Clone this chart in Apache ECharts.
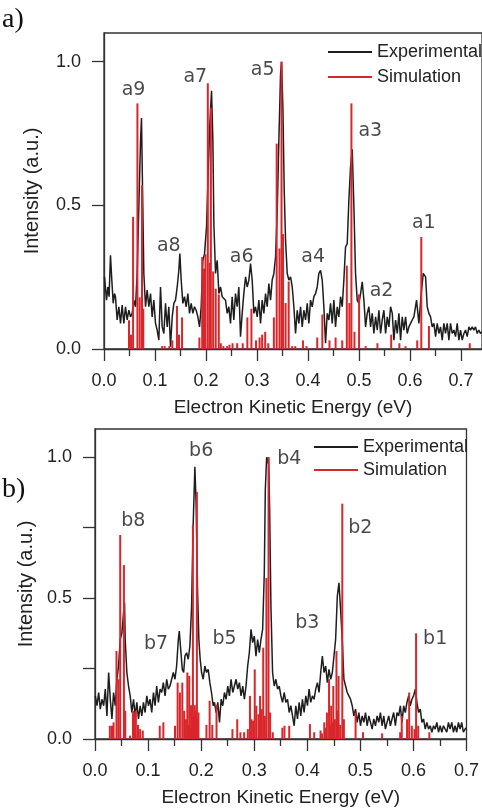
<!DOCTYPE html>
<html><head><meta charset="utf-8">
<script src="https://cdn.jsdelivr.net/npm/echarts@6/dist/echarts.min.js"></script>
<style>html,body{margin:0;padding:0;background:#fff}#c{width:482px;height:808px}</style>
</head><body><div id="c"></div>
<script>
// ---------- Panel a) ----------
const topExpE = [0.001,0.005,0.0075,0.010,0.0127,0.0153,0.018,0.0206,0.0225,0.0258,0.0291,0.0324,0.0356,0.0389,0.0422,0.0454,0.0487,0.052,0.0552,0.0585,0.0618,0.065,0.0683,0.0716,0.0735,0.0761,0.0781,0.0814,0.0846,0.0879,0.0912,0.0944,0.0977,0.101,0.1042,0.1075,0.1108,0.1141,0.1173,0.1206,0.1239,0.1271,0.1304,0.1337,0.1369,0.1402,0.1435,0.1467,0.1487,0.1513,0.1546,0.1578,0.1611,0.1644,0.1676,0.1709,0.1742,0.1774,0.1807,0.184,0.1873,0.1905,0.1938,0.1971,0.201,0.2042,0.2075,0.2108,0.2134,0.2154,0.2186,0.2219,0.2252,0.2284,0.2317,0.235,0.2382,0.2415,0.2447,0.248,0.2513,0.2545,0.2578,0.2611,0.2643,0.2676,0.2709,0.2741,0.2775,0.2807,0.284,0.2873,0.2905,0.2938,0.297,0.3003,0.3036,0.3069,0.3101,0.3134,0.3167,0.3199,0.3232,0.3265,0.3297,0.333,0.3363,0.3395,0.3428,0.3461,0.348,0.3507,0.3533,0.3559,0.3592,0.3624,0.3657,0.369,0.3722,0.3755,0.3788,0.382,0.3853,0.3886,0.3918,0.3951,0.3984,0.4016,0.4049,0.4082,0.4114,0.4147,0.418,0.4212,0.4245,0.4278,0.431,0.4343,0.4376,0.4408,0.4441,0.4474,0.4506,0.4539,0.4572,0.4604,0.4637,0.467,0.4702,0.4735,0.4768,0.48,0.4833,0.4866,0.4899,0.4931,0.4964,0.4997,0.503,0.5062,0.5095,0.5128,0.516,0.5193,0.5226,0.5258,0.5291,0.5324,0.5357,0.5389,0.5422,0.5454,0.5487,0.552,0.5553,0.5585,0.5618,0.5651,0.5683,0.5716,0.5749,0.5781,0.5814,0.5846,0.5879,0.5912,0.5944,0.5977,0.601,0.6042,0.6075,0.6127,0.6173,0.6219,0.6258,0.6304,0.6336,0.6369,0.6402,0.6434,0.6467,0.65,0.6532,0.6565,0.6597,0.663,0.6663,0.6695,0.6728,0.6761,0.6793,0.6826,0.6859,0.6891,0.6924,0.6957,0.6989,0.7022,0.7055,0.7087,0.712,0.7153,0.7185,0.7218,0.725,0.7283,0.7316,0.7348,0.738,0.741];
const topExpI = [0.251,0.170,0.216,0.182,0.326,0.240,0.159,0.193,0.182,0.101,0.147,0.089,0.153,0.089,0.147,0.101,0.135,0.112,0.124,0.170,0.147,0.263,0.494,0.726,0.804,0.494,0.263,0.147,0.205,0.147,0.193,0.112,0.170,0.089,0.066,0.031,0.216,0.077,0.054,0.159,0.077,0.147,0.008,0.112,0.159,0.170,0.216,0.274,0.332,0.240,0.159,0.182,0.147,0.193,0.124,0.159,0.124,0.147,0.135,0.112,0.077,0.147,0.309,0.332,0.425,0.610,0.784,0.899,0.726,0.436,0.263,0.309,0.193,0.216,0.182,0.182,0.170,0.124,0.147,0.089,0.182,0.101,0.193,0.147,0.216,0.043,0.124,0.193,0.251,0.216,0.240,0.297,0.240,0.124,0.147,0.112,0.170,0.089,0.170,0.124,0.193,0.147,0.228,0.170,0.240,0.263,0.321,0.471,0.726,0.957,1.0,0.841,0.552,0.378,0.263,0.240,0.251,0.216,0.147,0.054,0.135,0.089,0.147,0.077,0.135,0.101,0.159,0.089,0.170,0.147,0.182,0.193,0.216,0.263,0.274,0.240,0.147,0.020,0.124,0.101,0.159,0.089,0.170,0.077,0.147,0.112,0.182,0.147,0.240,0.355,0.367,0.517,0.633,0.695,0.494,0.263,0.170,0.159,0.193,0.234,0.170,0.077,0.124,0.147,0.077,0.124,0.054,0.112,0.066,0.135,0.054,0.101,0.135,0.054,0.112,0.077,0.147,0.124,0.031,0.101,0.054,0.124,0.031,0.112,0.066,0.112,0.054,0.077,0.089,0.101,0.112,0.170,0.089,0.193,0.263,0.251,0.147,0.124,0.112,0.077,0.089,0.043,0.089,0.054,0.077,0.031,0.089,0.054,0.089,0.031,0.089,0.054,0.066,0.043,0.089,0.031,0.066,0.031,0.054,0.066,0.043,0.077,0.066,0.077,0.066,0.077,0.054,0.066,0.054,0.060];
const topSimE = [0.049,0.053,0.057,0.0655,0.070,0.0745,0.077,0.114,0.119,0.128,0.134,0.143,0.147,0.153,0.187,0.1925,0.196,0.199,0.2035,0.2075,0.2095,0.214,0.219,0.225,0.229,0.234,0.2415,0.246,0.252,0.261,0.272,0.281,0.289,0.298,0.305,0.310,0.316,0.322,0.333,0.3385,0.344,0.348,0.351,0.356,0.362,0.369,0.375,0.390,0.397,0.418,0.428,0.442,0.454,0.467,0.476,0.481,0.485,0.491,0.500,0.513,0.536,0.563,0.579,0.591,0.614,0.622,0.637,0.717];
const topSimI = [0.10,0.05,0.46,0.855,0.18,0.57,0.14,0.01,0.01,0.01,0.03,0.15,0.05,0.11,0.04,0.32,0.28,0.33,0.925,0.30,0.84,0.27,0.21,0.19,0.02,0.01,0.01,0.015,0.02,0.02,0.02,0.11,0.14,0.03,0.04,0.05,0.06,0.02,0.11,0.715,0.35,1.0,0.40,0.16,0.235,0.01,0.01,0.03,0.01,0.04,0.12,0.03,0.04,0.03,0.29,0.16,0.855,0.06,0.19,0.01,0.02,0.05,0.02,0.01,0.03,0.39,0.08,0.02];
const topPeakNames = ['a9','a8','a7','a6','a5','a4','a3','a2','a1'];
const topPeakE = [0.058,0.127,0.179,0.270,0.311,0.410,0.522,0.544,0.627];
const topPeakI = [0.90,0.36,0.945,0.32,0.97,0.32,0.76,0.20,0.44];

// ---------- Panel b) ----------
const botExpE = [0.0006,0.0038,0.0069,0.0100,0.0131,0.0163,0.0194,0.0225,0.0257,0.0288,0.0319,0.0350,0.0381,0.0413,0.0444,0.0475,0.0507,0.0538,0.0557,0.0569,0.0600,0.0632,0.0663,0.0694,0.0726,0.0757,0.0788,0.0819,0.0851,0.0882,0.0913,0.0944,0.0976,0.1007,0.1038,0.1069,0.1101,0.1132,0.1163,0.1195,0.1226,0.1257,0.1288,0.1320,0.1351,0.1382,0.1413,0.1445,0.1476,0.1507,0.1538,0.1570,0.1588,0.1620,0.1645,0.1670,0.1695,0.1726,0.1757,0.1788,0.1820,0.1851,0.1882,0.1907,0.1932,0.1957,0.1982,0.2008,0.2039,0.2070,0.2101,0.2133,0.2164,0.2195,0.2227,0.2251,0.2283,0.2314,0.2346,0.2377,0.2408,0.2439,0.2471,0.2502,0.2533,0.2564,0.2596,0.2627,0.2658,0.2690,0.2721,0.2752,0.2784,0.2815,0.2846,0.2877,0.2908,0.2940,0.2971,0.3002,0.3033,0.3065,0.3096,0.3127,0.3159,0.3190,0.3209,0.3234,0.3252,0.3271,0.3290,0.3315,0.3346,0.3377,0.3409,0.3440,0.3471,0.3503,0.3534,0.3565,0.3597,0.3628,0.3659,0.3690,0.3722,0.3753,0.3784,0.3815,0.3847,0.3878,0.3909,0.3940,0.3972,0.4003,0.4034,0.4065,0.4097,0.4128,0.4159,0.4191,0.4222,0.4253,0.4284,0.4316,0.4347,0.4378,0.4409,0.4441,0.4472,0.4503,0.4534,0.4566,0.4597,0.4628,0.4659,0.4690,0.4722,0.4753,0.4784,0.4815,0.4847,0.4878,0.4909,0.4940,0.4972,0.5003,0.5034,0.5066,0.5097,0.5128,0.5160,0.5191,0.5222,0.5253,0.5285,0.5316,0.5347,0.5378,0.5410,0.5441,0.5472,0.5503,0.5535,0.5566,0.5597,0.5628,0.5660,0.5691,0.5722,0.5753,0.5785,0.5816,0.5847,0.5878,0.5910,0.5941,0.5972,0.6003,0.6035,0.6066,0.6098,0.6129,0.6160,0.6191,0.6223,0.6254,0.6285,0.6316,0.6348,0.6379,0.6410,0.6441,0.6473,0.6504,0.6535,0.6566,0.6598,0.6629,0.6660,0.6691,0.6723,0.6754,0.6785,0.6816,0.6848,0.6879,0.6910,0.6941,0.6973,0.700];
const botExpI = [0.153,0.118,0.165,0.106,0.141,0.118,0.177,0.082,0.236,0.141,0.071,0.165,0.118,0.212,0.259,0.353,0.377,0.448,0.483,0.353,0.236,0.188,0.153,0.094,0.141,0.082,0.130,0.071,0.118,0.082,0.130,0.094,0.153,0.118,0.141,0.094,0.165,0.118,0.188,0.130,0.177,0.165,0.200,0.153,0.212,0.177,0.188,0.212,0.236,0.212,0.259,0.353,0.383,0.306,0.247,0.236,0.294,0.306,0.283,0.330,0.471,0.766,0.966,0.824,0.530,0.353,0.283,0.236,0.212,0.259,0.236,0.247,0.200,0.165,0.118,0.130,0.094,0.130,0.059,0.141,0.118,0.165,0.141,0.188,0.153,0.212,0.165,0.188,0.212,0.177,0.200,0.153,0.188,0.141,0.188,0.259,0.306,0.389,0.342,0.365,0.294,0.353,0.306,0.353,0.389,0.589,0.883,1.0,0.978,1.0,0.824,0.471,0.236,0.188,0.212,0.177,0.188,0.153,0.130,0.165,0.130,0.141,0.094,0.118,0.082,0.047,0.118,0.071,0.130,0.082,0.141,0.094,0.153,0.118,0.177,0.130,0.153,0.141,0.177,0.200,0.165,0.236,0.294,0.236,0.259,0.200,0.247,0.212,0.236,0.294,0.353,0.506,0.554,0.459,0.353,0.212,0.188,0.165,0.153,0.141,0.118,0.082,0.106,0.059,0.094,0.047,0.082,0.059,0.094,0.047,0.082,0.059,0.035,0.071,0.047,0.082,0.059,0.094,0.047,0.082,0.035,0.059,0.082,0.047,0.071,0.094,0.047,0.094,0.082,0.118,0.059,0.118,0.094,0.130,0.153,0.118,0.141,0.153,0.177,0.130,0.094,0.106,0.059,0.071,0.035,0.059,0.035,0.047,0.024,0.047,0.035,0.059,0.024,0.047,0.024,0.047,0.035,0.024,0.059,0.035,0.059,0.024,0.047,0.024,0.059,0.035,0.059,0.024,0.035,0.040];
const botSimE = [0.028,0.032,0.035,0.0405,0.044,0.0475,0.0545,0.057,0.066,0.0715,0.0735,0.077,0.081,0.085,0.090,0.122,0.1288,0.1507,0.1557,0.160,0.1645,0.168,0.1713,0.174,0.176,0.1776,0.179,0.181,0.183,0.1845,0.186,0.188,0.190,0.192,0.193,0.195,0.210,0.216,0.221,0.229,0.259,0.268,0.274,0.281,0.288,0.292,0.295,0.298,0.301,0.304,0.308,0.311,0.314,0.317,0.320,0.323,0.327,0.330,0.335,0.353,0.357,0.366,0.405,0.413,0.425,0.428,0.432,0.434,0.437,0.441,0.443,0.445,0.447,0.449,0.452,0.455,0.457,0.459,0.462,0.466,0.469,0.491,0.505,0.541,0.575,0.578,0.588,0.592,0.597,0.602,0.605,0.609,0.630];
const botSimI = [0.047,0.047,0.059,0.312,0.212,0.724,0.617,0.10,0.012,0.10,0.094,0.10,0.05,0.035,0.03,0.047,0.059,0.047,0.20,0.165,0.20,0.10,0.07,0.236,0.05,0.224,0.04,0.12,0.06,0.76,0.08,0.12,0.10,0.877,0.07,0.094,0.05,0.136,0.05,0.12,0.035,0.07,0.024,0.024,0.035,0.153,0.07,0.065,0.247,0.118,0.088,0.153,0.106,0.324,0.082,0.571,1.0,0.094,0.024,0.04,0.047,0.047,0.053,0.024,0.03,0.02,0.059,0.04,0.094,0.212,0.05,0.118,0.06,0.188,0.07,0.312,0.10,0.224,0.05,0.835,0.07,0.094,0.024,0.02,0.024,0.082,0.07,0.165,0.047,0.035,0.375,0.047,0.024];
const botPeakNames = ['b8','b7','b6','b5','b4','b3','b2','b1'];
const botPeakE = [0.072,0.115,0.200,0.244,0.366,0.400,0.500,0.641];
const botPeakI = [0.774,0.336,1.02,0.353,0.993,0.41,0.75,0.355];

// ---------- ticks ----------
const xMajor = [0,0.1,0.2,0.3,0.4,0.5,0.6,0.7];
const xMinor = [0.05,0.15,0.25,0.35,0.45,0.55,0.65];
const topYTicks = [0,0.5,1.0];
const botYTicks = [0,0.25,0.5,0.75,1.0];
const botYLabels = [0,0.5,1.0];

const zip = (a,b) => a.map((v,i)=>[v,b[i]]);
const FONT = 'Liberation Sans';
const LABEL_FONT = 'DejaVu Sans';
const AX = '#333';
const BLACK = '#1e1e1e';
const RED = '#d9262b';

function xMain(grid, max){
  return {type:'value', gridIndex:grid, min:0, max:max, position:'bottom',
    axisLine:{show:true, lineStyle:{color:AX,width:1.3}},
    axisTick:{show:true, inside:false, length:12, customValues:xMajor, lineStyle:{color:AX,width:1.3}},
    axisLabel:{show:true, customValues:xMajor, margin:23, fontFamily:FONT, fontSize:18, color:'#222', formatter:v=>v.toFixed(1)},
    splitLine:{show:false},
    name:'Electron Kinetic Energy (eV)', nameLocation:'middle', nameGap:49,
    nameTextStyle:{fontFamily:FONT, fontSize:19, color:'#222'}};
}
function xMinorAx(grid, max){
  return {type:'value', gridIndex:grid, min:0, max:max, position:'bottom',
    axisLine:{show:false}, axisLabel:{show:false}, splitLine:{show:false},
    axisTick:{show:true, inside:false, length:7, customValues:xMinor, lineStyle:{color:AX,width:1.3}}};
}
function yAx(grid, ticks, labels, gap){
  return {type:'value', gridIndex:grid, min:0, max:1.1,
    axisLine:{show:true, lineStyle:{color:AX,width:1.3}},
    axisTick:{show:true, inside:false, length:12, customValues:ticks, lineStyle:{color:AX,width:1.3}},
    axisLabel:{show:true, customValues:labels, margin:23, fontFamily:FONT, fontSize:18, color:'#222', formatter:v=>v.toFixed(1)},
    splitLine:{show:false},
    name:'Intensity (a.u.)', nameLocation:'middle', nameGap:gap,
    nameTextStyle:{fontFamily:FONT, fontSize:20, color:'#222'}};
}
function peakSeries(xi, yi, names, es, is){
  return {type:'scatter', xAxisIndex:xi, yAxisIndex:yi, symbolSize:1, itemStyle:{color:'rgba(0,0,0,0)'},
    silent:true, z:10,
    data: names.map((n,i)=>({value:[es[i],is[i]], name:n})),
    label:{show:true, position:'inside', formatter:p=>p.name, fontFamily:LABEL_FONT, fontSize:19, color:'#1a1a1a'}};
}

const chart = echarts.init(document.getElementById('c'), null, {renderer:'canvas'});
chart.setOption({
  animation:false,
  backgroundColor:'#fff',
  grid:[
    {left:104, top:33, width:378, height:316, show:true, borderColor:AX, borderWidth:1.3, containLabel:false},
    {left:95, top:429, width:373, height:311, show:true, borderColor:AX, borderWidth:1.3, containLabel:false}
  ],
  xAxis:[ xMain(0,0.741), xMinorAx(0,0.741), xMain(1,0.7), xMinorAx(1,0.7) ],
  yAxis:[ yAx(0, topYTicks, topYTicks, 62), yAx(1, botYTicks, botYLabels, 53) ],
  legend:[
    {left:323, top:38, orient:'vertical', itemWidth:44, itemHeight:2, itemGap:7, icon:'rect', selectedMode:false,
     textStyle:{fontFamily:FONT, fontSize:18, color:'#222'}, data:['Experimental','Simulation']},
    {left:309, top:433, orient:'vertical', itemWidth:44, itemHeight:2, itemGap:5, icon:'rect', selectedMode:false,
     textStyle:{fontFamily:FONT, fontSize:18, color:'#222'}, data:['Experimental','Simulation']}
  ],
  graphic:[
    {type:'text', left:2, top:6, style:{text:'a)', font:'28px "Liberation Serif"', fill:'#111'}},
    {type:'text', left:2, top:476, style:{text:'b)', font:'28px "Liberation Serif"', fill:'#111'}}
  ],
  series:[
    {name:'Experimental', type:'line', xAxisIndex:0, yAxisIndex:0, data:zip(topExpE,topExpI), showSymbol:false, symbol:'none',
     lineStyle:{color:BLACK, width:1.5}, itemStyle:{color:BLACK}, z:2},
    {name:'Simulation', type:'bar', xAxisIndex:0, yAxisIndex:0, data:zip(topSimE,topSimI), barWidth:2,
     itemStyle:{color:RED}, z:3},
    {name:'Experimental', type:'line', xAxisIndex:2, yAxisIndex:1, data:zip(botExpE,botExpI), showSymbol:false, symbol:'none',
     lineStyle:{color:BLACK, width:1.5}, itemStyle:{color:BLACK}, z:2},
    {name:'Simulation', type:'bar', xAxisIndex:2, yAxisIndex:1, data:zip(botSimE,botSimI), barWidth:2,
     itemStyle:{color:RED}, z:3},
    peakSeries(0,0,topPeakNames,topPeakE,topPeakI),
    peakSeries(2,1,botPeakNames,botPeakE,botPeakI)
  ]
});
</script></body></html>
